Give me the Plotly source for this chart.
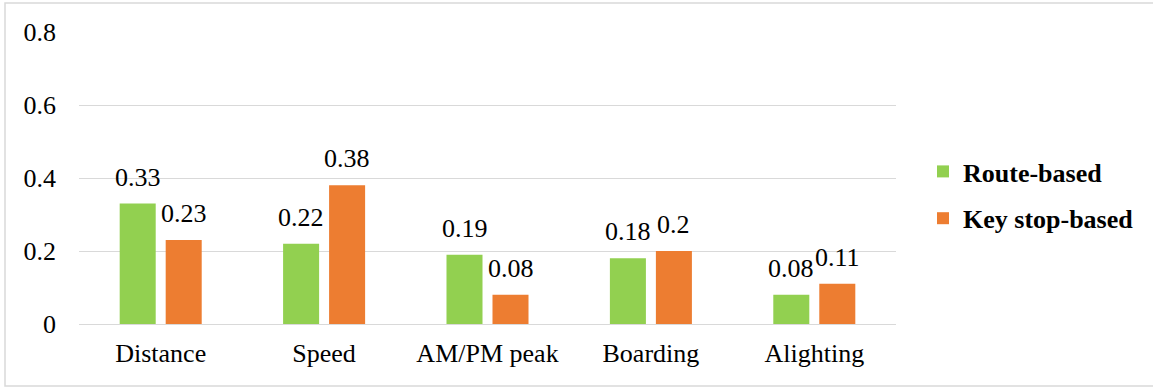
import plotly.graph_objects as go

categories = ["Distance", "Speed", "AM/PM peak", "Boarding", "Alighting"]
route_based = [0.33, 0.22, 0.19, 0.18, 0.08]
key_stop_based = [0.23, 0.38, 0.08, 0.2, 0.11]
y_ticks = [0, 0.2, 0.4, 0.6, 0.8]
y_tick_labels = ["0", "0.2", "0.4", "0.6", "0.8"]

GREEN = "#92D050"
ORANGE = "#ED7D31"
GRID = "#D9D9D9"
FONT = "Liberation Serif, Times New Roman, serif"

W, H = 1153, 387
L, R, T, B = 79, 257, 32, 63
pw, ph = W - L - R, H - T - B

fig = go.Figure()
fig.add_trace(go.Bar(
    x=categories, y=route_based, name="Route-based",
    marker=dict(color=GREEN, line=dict(width=0)), legendgroup="a",
))
fig.add_trace(go.Bar(
    x=categories, y=key_stop_based, name="Key stop-based",
    marker=dict(color=ORANGE, line=dict(width=0)), legendgroup="b",
))

# value labels above each bar
annotations = []
for series, shift in ((route_based, -23), (key_stop_based, 23)):
    for cat, v in zip(categories, series):
        annotations.append(dict(
            x=cat, y=v, xref="x", yref="y", text=str(v), showarrow=False,
            xshift=shift, yanchor="bottom", yshift=10,
            font=dict(family=FONT, size=26, color="#000000"),
        ))

fig.update_layout(
    width=W, height=H,
    margin=dict(l=L, r=R, t=T, b=B),
    paper_bgcolor="white", plot_bgcolor="white",
    barmode="group", bargap=0.437, bargroupgap=0.217,
    font=dict(family=FONT, size=26, color="#000000"),
    showlegend=True,
    legend=dict(
        x=(923 - L) / pw, xanchor="left", y=(H - B - 195) / ph, yanchor="middle",
        font=dict(family=FONT, size=26, color="#000000", weight="bold"),
        tracegroupgap=10, bgcolor="rgba(0,0,0,0)",
    ),
    annotations=annotations,
    shapes=[dict(
        type="rect", xref="paper", yref="paper",
        x0=(5 - L) / pw, x1=(1156 - L) / pw,
        y0=(H - B - 386) / ph, y1=(H - B - 3) / ph,
        line=dict(color="#D9D9D9", width=1.5), fillcolor="rgba(0,0,0,0)",
        layer="below",
    )],
)
fig.update_xaxes(
    showgrid=False, showline=False, ticks="",
    tickfont=dict(family=FONT, size=26), ticklabelstandoff=11,
)
fig.update_yaxes(
    range=[0, 0.8], tickvals=y_ticks, ticktext=y_tick_labels,
    showgrid=True, gridcolor=GRID, gridwidth=1.3,
    zeroline=True, zerolinecolor=GRID, zerolinewidth=1.3,
    showline=False, ticks="", ticklabelstandoff=22,
    tickfont=dict(family=FONT, size=26),
)

fig.write_html("out.html")
